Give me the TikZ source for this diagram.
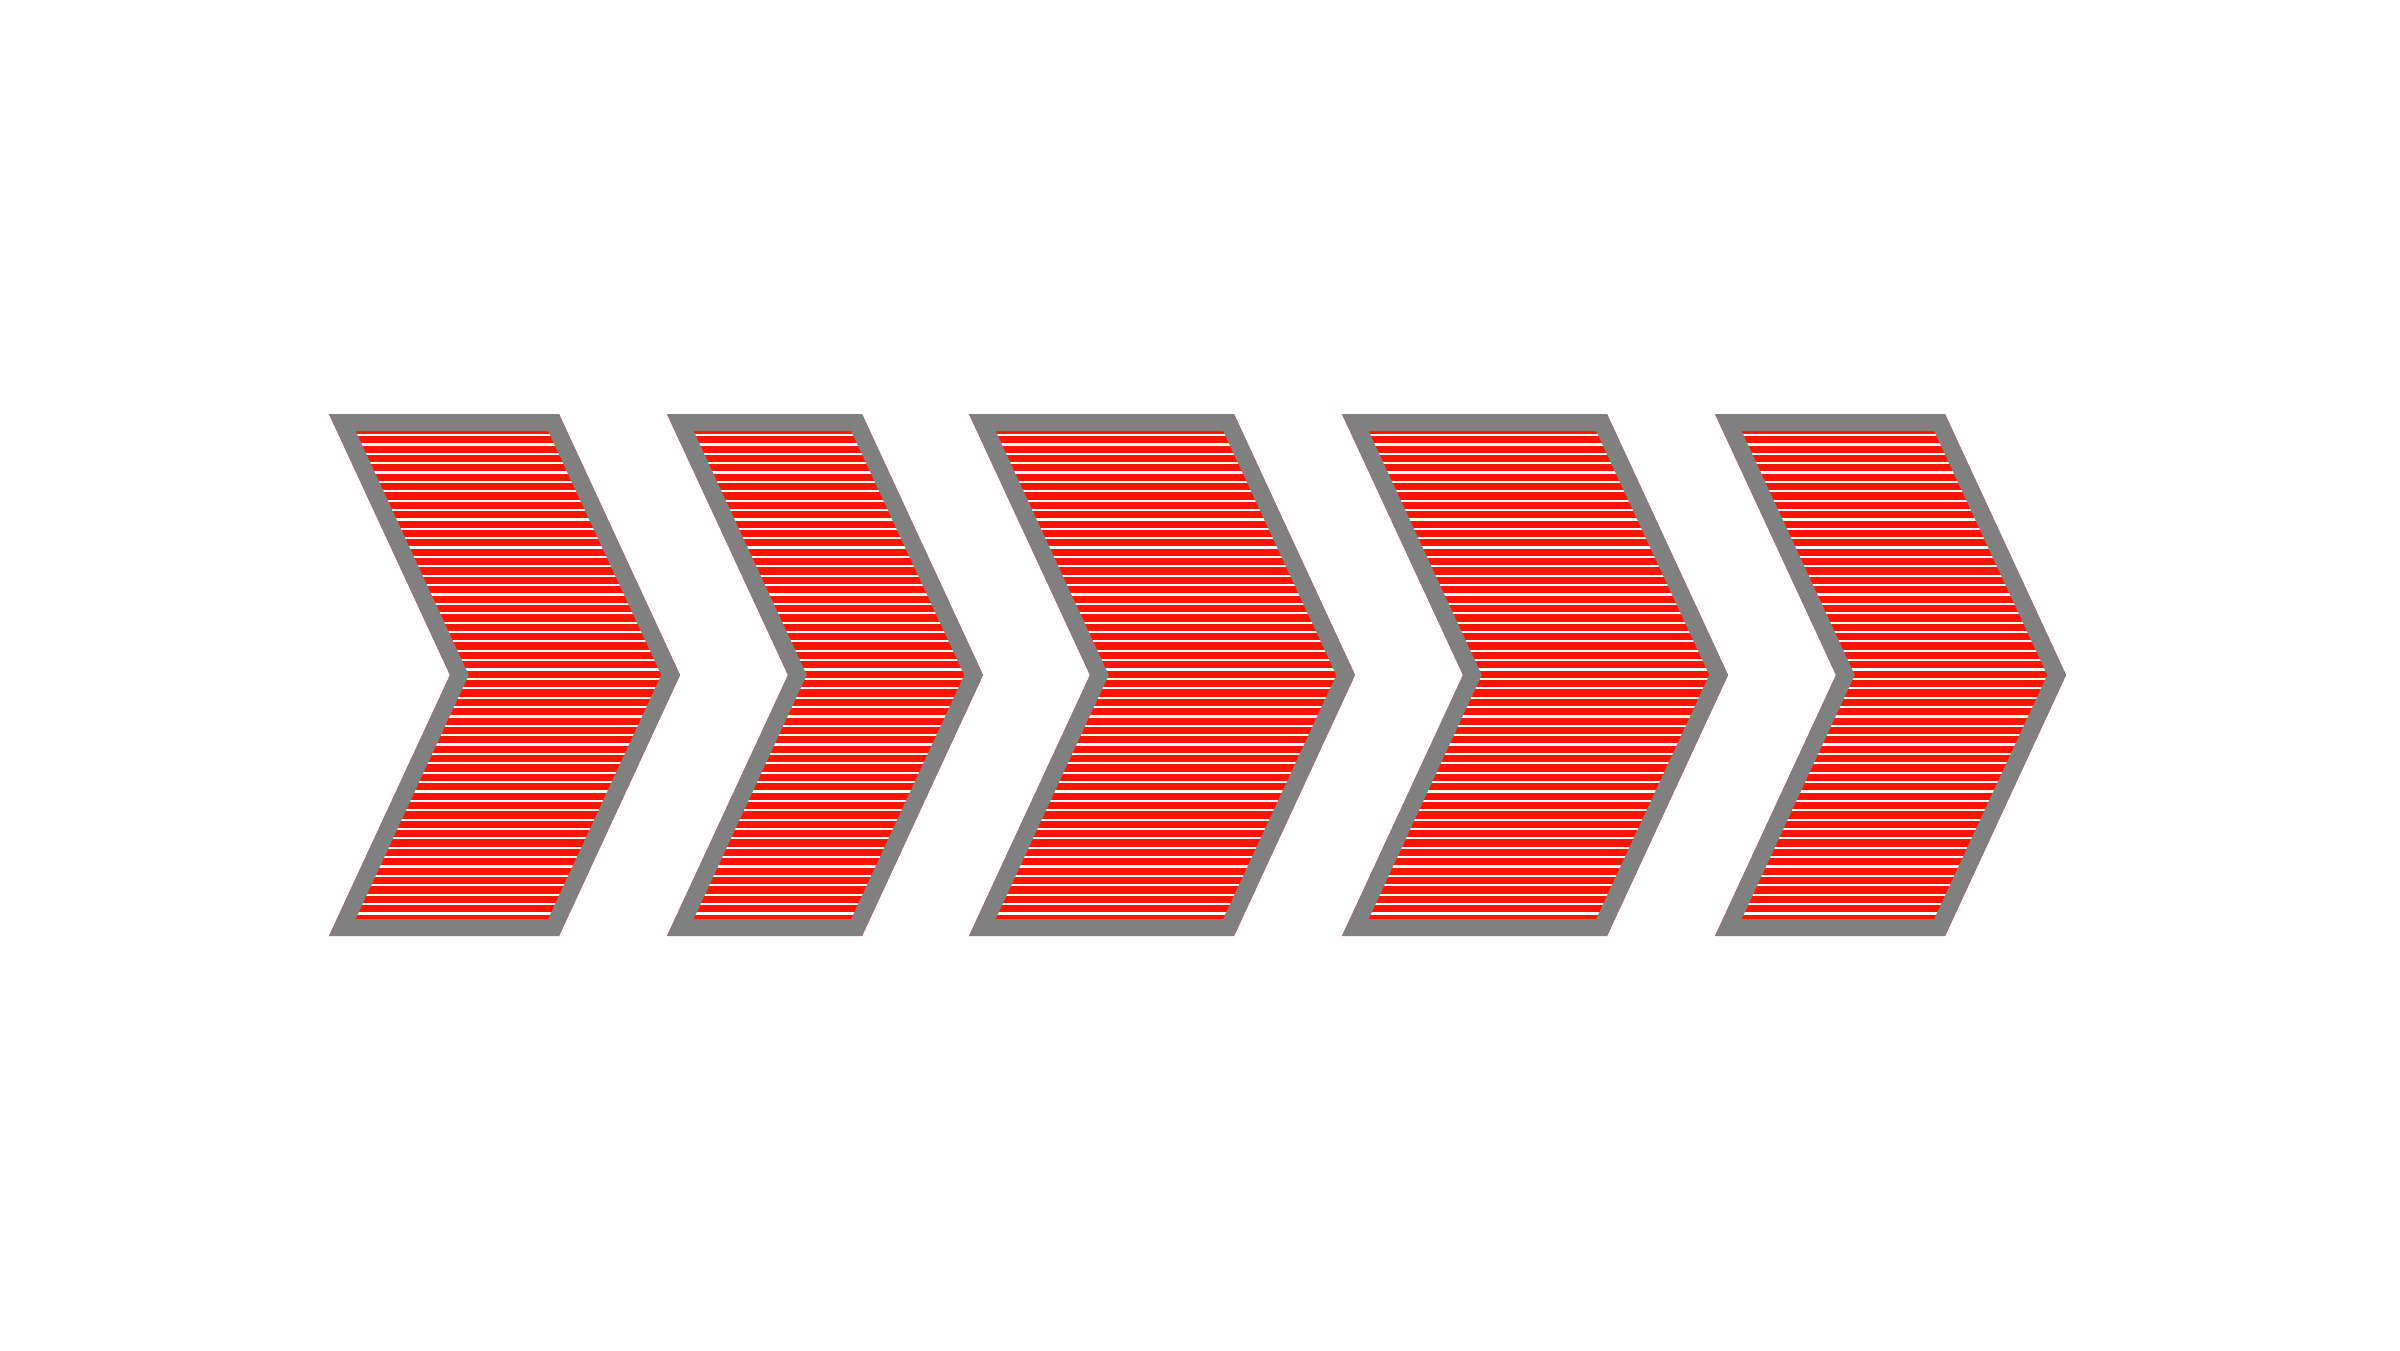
\documentclass[tikz,border=0pt]{standalone}
\definecolor{chevred}{RGB}{255,20,0}
\definecolor{chevgray}{RGB}{128,128,128}
\tikzset{
  chevfill/.style={fill=chevred},
  chevstripe/.style={draw=white, line width=0.022cm},
  chevborder/.style={draw=chevgray, line width=0.34cm, line join=miter}
}
\begin{document}
\begin{tikzpicture}[x=0.01cm,y=-0.01cm]
\useasboundingbox (0,0) rectangle (2400,1350);
\foreach \l/\r in {329/559, 667/862, 969/1234, 1342/1607, 1715/1945}{
  \begin{scope}
    \clip (\l,414) -- (\r,414) -- (\r+121,675) -- (\r,936) -- (\l,936) -- (\l+121,675) -- cycle;
    \path[chevfill] (\l,414) rectangle (\r+121,936);
    \foreach \i in {0,...,51}
      \path[chevstripe] (\l,435+\i*9.38) -- (\r+121,435+\i*9.38);
    \path[chevborder] (\l,414) -- (\r,414) -- (\r+121,675) -- (\r,936) -- (\l,936) -- (\l+121,675) -- cycle;
  \end{scope}
}
\end{tikzpicture}
\end{document}
